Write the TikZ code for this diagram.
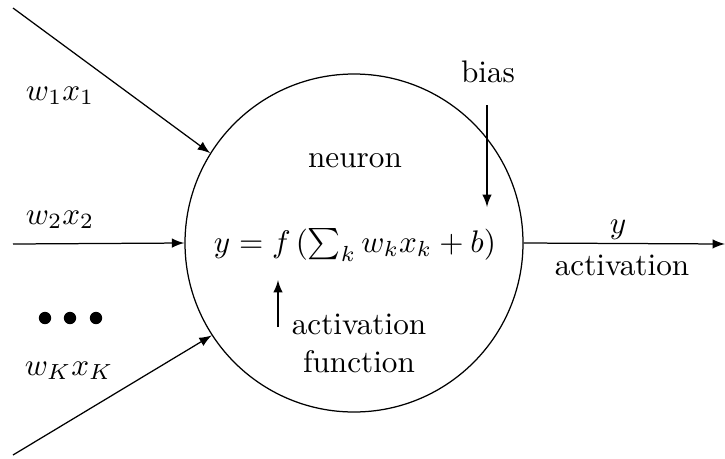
\documentclass[tikz,border=0pt]{standalone}
\usetikzlibrary{arrows}
\begin{document}
\begin{tikzpicture}[x=0.3205pt,y=-0.3205pt,
  lbl/.style={inner sep=0pt,anchor=base},
  conn/.style={-latex}]
\useasboundingbox (0,0) rectangle (725,458);
\node[draw,circle,minimum size=338*0.3205pt,inner sep=0pt] (neuron) at (354,243) {};
\node[lbl] (ntext) at (355,167) {neuron};
\node[lbl] (formula) at (355,252) {$y = f\left(\sum_k w_k x_k + b\right)$};
\node[lbl] (l1) at (60,100) {$w_1x_1$};
\node[lbl] (l2) at (60,224) {$w_2x_2$};
\node[lbl] (lK) at (69,375) {$w_Kx_K$};
\node[lbl] (bias) at (488,82) {bias};
\node[lbl] (ylab) at (618,233) {$y$};
\node[lbl] (alab) at (622,275) {activation};
\node[lbl,align=center] (aflab) at (359,372) {activation\\function};
\fill (45,318) circle (6.2);
\fill (70,318) circle (6.2);
\fill (96,318) circle (6.2);
\coordinate (in1) at (13,8);
\coordinate (in2) at (13,244);
\coordinate (inK) at (13,455);
\coordinate (out) at (725,244);
\coordinate (bstart) at (487,105);
\coordinate (bend) at (487,207);
\coordinate (fstart) at (278,327);
\coordinate (fend) at (278,280);
\draw[conn] (in1) -- (neuron.148);
\draw[conn] (in2) -- (neuron.west);
\draw[conn] (inK) -- (neuron.213.5);
\draw[conn] (neuron.east) -- (out);
\draw[conn] (bstart) -- (bend);
\draw[conn] (fstart) -- (fend);
\end{tikzpicture}
\end{document}
